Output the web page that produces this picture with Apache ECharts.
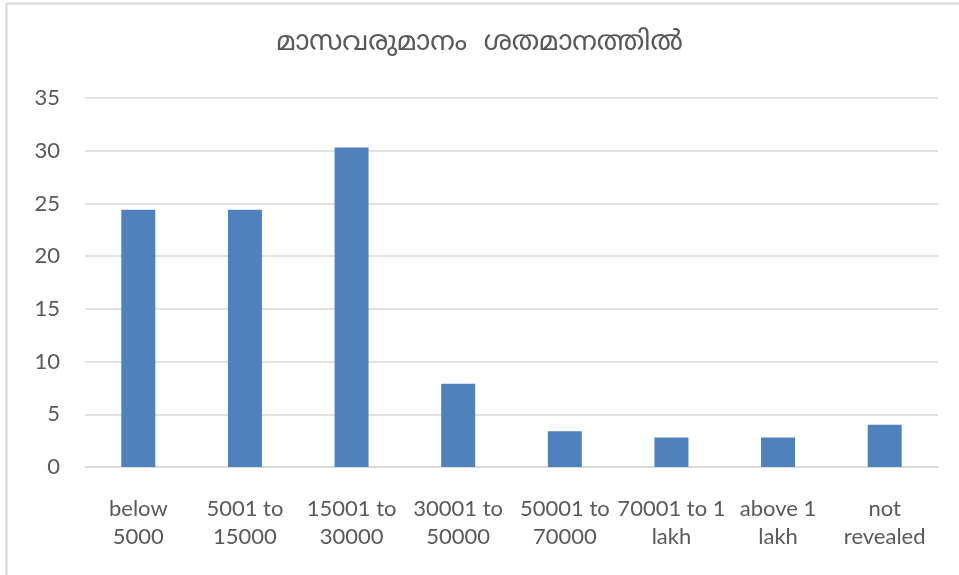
<!DOCTYPE html>
<html>
<head>
<meta charset="utf-8">
<script src="https://cdn.jsdelivr.net/npm/echarts@6/dist/echarts.min.js"></script>
<style>
html,body{margin:0;padding:0;background:#fff;}
#chart{width:959px;height:575px;}
</style>
</head>
<body>
<div id="chart"></div>
<script>
var titleText = 'മാസവരുമാനം  ശതമാനത്തിൽ';
var categories = ['below\n5000', '5001 to\n15000', '15001 to\n30000', '30001 to\n50000', '50001 to\n70000', '70001 to 1\nlakh', 'above 1\nlakh', 'not\nrevealed'];
var values = [24.4, 24.4, 30.3, 7.9, 3.4, 2.8, 2.8, 4.0];
var yTicks = { min: 0, max: 35, interval: 5 };

var chart = echarts.init(document.getElementById('chart'), null, { renderer: 'canvas' });
var fontFam = '"Noto Sans Malayalam", "Noto Sans", "DejaVu Sans", sans-serif';
var labelFont = 'Lato, "Open Sans", sans-serif';
chart.setOption({
  animation: false,
  backgroundColor: '#ffffff',
  title: {
    text: titleText,
    left: 'center',
    top: 26,
    textStyle: { fontSize: 27, fontWeight: 'normal', color: '#595959', fontFamily: fontFam }
  },
  graphic: [
    { type: 'line', shape: { x1: 6.5, y1: 3.5, x2: 6.5, y2: 575 }, style: { stroke: '#d9d9d9', lineWidth: 2 } },
    { type: 'line', shape: { x1: 6.5, y1: 3.5, x2: 959, y2: 3.5 }, style: { stroke: '#d9d9d9', lineWidth: 2 } }
  ],
  grid: { left: 85, right: 21, top: 98, bottom: 108, containLabel: false },
  xAxis: {
    type: 'category',
    data: categories,
    axisLine: { show: true, lineStyle: { color: '#d9d9d9', width: 1.5 } },
    axisTick: { show: false },
    axisLabel: {
      interval: 0, margin: 28, fontSize: 22, lineHeight: 28, color: '#595959',
      fontFamily: labelFont
    }
  },
  yAxis: {
    type: 'value',
    min: yTicks.min, max: yTicks.max, interval: yTicks.interval,
    axisLine: { show: false },
    axisTick: { show: false },
    splitLine: { lineStyle: { color: '#d9d9d9', width: 1.5 } },
    axisLabel: { margin: 25, fontSize: 22, color: '#595959', fontFamily: labelFont }
  },
  series: [{
    type: 'bar',
    data: values,
    barWidth: 34,
    itemStyle: { color: '#4F81BD' }
  }]
});
</script>
</body>
</html>
